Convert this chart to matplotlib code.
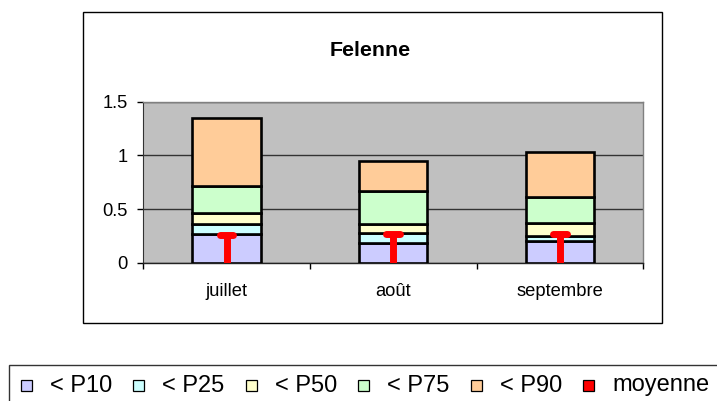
import matplotlib
matplotlib.use("Agg")
import matplotlib.pyplot as plt
from matplotlib.patches import Rectangle
import numpy as np

# ---- data ----
title = "Felenne"
months = ["juillet", "août", "septembre"]
# cumulative percentile levels
p10 = [0.27, 0.185, 0.203]
p25 = [0.36, 0.275, 0.246]
p50 = [0.46, 0.362, 0.372]
p75 = [0.711, 0.667, 0.613]
p90 = [1.348, 0.943, 1.03]
moyenne = [0.255, 0.267, 0.27]
series_labels = ["< P10", "< P25", "< P50", "< P75", "< P90", "moyenne"]
yticks = [0, 0.5, 1, 1.5]
ytick_labels = ["0", "0.5", "1", "1.5"]

colors = ["#CCCCFF", "#CCFFFF", "#FFFFCC", "#CCFFCC", "#FFCC99", "#FF0000"]

plt.rcParams["font.family"] = ["Liberation Sans", "DejaVu Sans"]

W, H = 717, 401
fig = plt.figure(figsize=(W / 100, H / 100), dpi=100)

def fx(px):
    return px / W

def fy(py):
    return 1 - py / H

# chart frame
fig.add_artist(Rectangle((fx(82.7), fy(323)), fx(662) - fx(82.7), fy(12.3) - fy(323),
                         transform=fig.transFigure, fill=False, edgecolor="black", lw=1.0))

ax = fig.add_axes([fx(143.3), fy(262.7), fx(643.3) - fx(143.3), fy(101.7) - fy(262.7)])
ax.set_facecolor("#C0C0C0")

x = np.arange(len(months))
width = 0.41
levels = [p10, p25, p50, p75, p90]
prev = np.zeros(len(months))
for lev, col in zip(levels, colors[:5]):
    lev = np.array(lev)
    ax.bar(x, lev - prev, bottom=prev, width=width, color=col, edgecolor="black",
           linewidth=1.9, zorder=3)
    prev = lev

# moyenne markers: red stem with rounded cap
for xi, m in zip(x, moyenne):
    ax.plot([xi, xi], [0, m], color=colors[5], lw=5.0, solid_capstyle="butt", zorder=4)
    ax.plot([xi - 0.041, xi + 0.041], [m, m], color=colors[5], lw=5.0,
            solid_capstyle="round", zorder=5)

ax.set_xlim(-0.5, len(months) - 0.5)
ax.set_ylim(0, 1.5)
ax.set_yticks(yticks)
ax.set_yticklabels(ytick_labels)
ax.set_xticks(x)
ax.set_xticklabels(months)
ax.set_xticks(np.arange(len(months) + 1) - 0.5, minor=True)
ax.tick_params(axis="x", which="major", length=0, pad=14.8, labelsize=13.2)
ax.tick_params(axis="x", which="minor", length=4, width=1, direction="out", color="black")
ax.tick_params(axis="y", length=4, width=1, direction="out", pad=7.2, labelsize=13.2)
ax.yaxis.grid(True, color="#333333", lw=1.0, zorder=1)
ax.set_axisbelow(True)
for s in ["top", "right"]:
    ax.spines[s].set_color("#808080")
    ax.spines[s].set_linewidth(1.0)
ax.spines["left"].set_color("#333333")
ax.spines["bottom"].set_color("#222222")
ax.spines["bottom"].set_linewidth(1.0)

fig.text(fx(369.7), fy(51), title, ha="center", va="center", fontsize=15.4,
         fontweight="bold")

# legend (manual, Excel-like)
fig.add_artist(Rectangle((fx(8.5), fy(410)), fx(730) - fx(8.5), fy(365) - fy(410),
                         transform=fig.transFigure, fill=False, edgecolor="#333333", lw=1.0))
step = 112.4
for i, (lab, col) in enumerate(zip(series_labels, colors)):
    mx = 21 + step * i
    fig.add_artist(Rectangle((fx(mx), fy(391)), fx(11), fy(380) - fy(391),
                             transform=fig.transFigure, facecolor=col,
                             edgecolor="black", lw=0.9))
    fig.text(fx(mx + 29), fy(391.5), lab, ha="left", va="baseline", fontsize=17)

fig.savefig("out.png", dpi=100)
